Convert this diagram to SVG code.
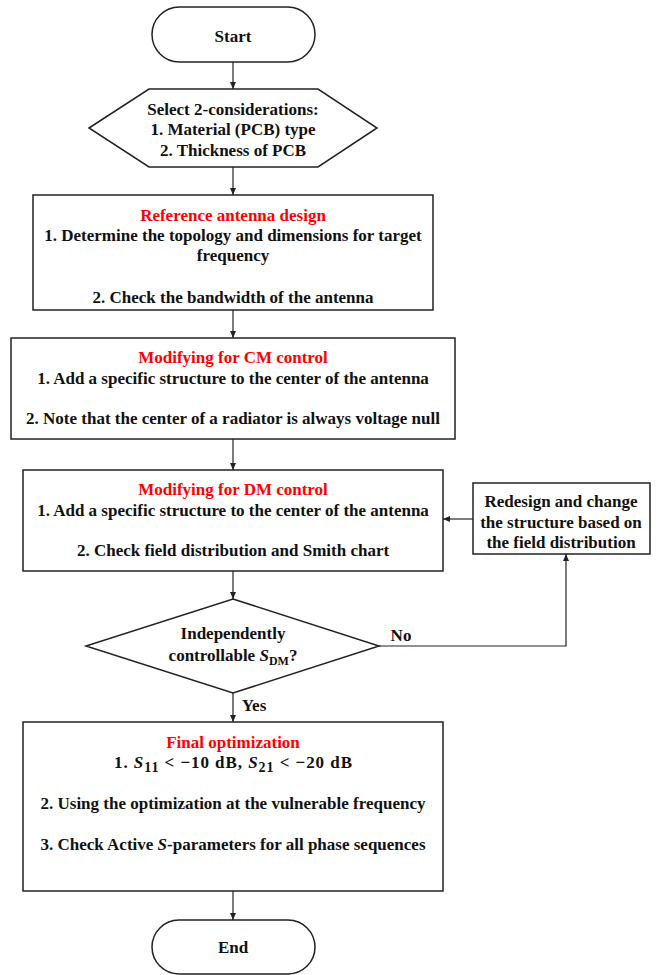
<svg xmlns="http://www.w3.org/2000/svg" width="661" height="975" viewBox="0 0 661 975">
<style>
.shape{fill:#fff;stroke:#222;stroke-width:1.5}
.t{font-family:"Liberation Serif","Times New Roman",serif;font-weight:bold;font-size:17px;fill:#111;text-anchor:middle}
.red{fill:#ff0000}
.it{font-style:italic}
.conn{fill:none;stroke:#222;stroke-width:1.2}
</style>
<defs>
<marker id="ah" markerWidth="8" markerHeight="8" refX="7" refY="3" orient="auto" markerUnits="userSpaceOnUse">
<path d="M0,0 L7,3 L0,6 Z" fill="#222"/>
</marker>
</defs>
<rect width="661" height="975" fill="#fff"/>
<g id="connectors">
<line class="conn" x1="233" y1="62" x2="233" y2="89" marker-end="url(#ah)"/>
<line class="conn" x1="233" y1="167" x2="233" y2="195" marker-end="url(#ah)"/>
<line class="conn" x1="233" y1="310" x2="233" y2="338" marker-end="url(#ah)"/>
<line class="conn" x1="233" y1="439" x2="233" y2="470" marker-end="url(#ah)"/>
<line class="conn" x1="233" y1="571" x2="233" y2="599" marker-end="url(#ah)"/>
<line class="conn" x1="233" y1="693" x2="233" y2="722" marker-end="url(#ah)"/>
<line class="conn" x1="233" y1="891" x2="233" y2="920" marker-end="url(#ah)"/>
<polyline class="conn" points="379,646 566,646 566,554" marker-end="url(#ah)"/>
<line class="conn" x1="473" y1="519" x2="443" y2="519" stroke-width="2" marker-end="url(#ah)"/>
<text class="t" x="401" y="641">No</text>
<text class="t" x="254" y="711">Yes</text>
</g>
<g id="start">
<rect class="shape" x="152" y="7" width="163" height="55" rx="27.5" ry="27.5"/>
<text class="t" x="233" y="42">Start</text>
</g>
<g id="select">
<polygon class="shape" points="89,128 149,89 318,89 377,128 318,167 149,167"/>
<text class="t" x="233" y="115">Select 2-considerations:</text>
<text class="t" x="233" y="135">1. Material (PCB) type</text>
<text class="t" x="233" y="156">2. Thickness of PCB</text>
</g>
<g id="reference">
<rect class="shape" x="33" y="195" width="400" height="115"/>
<text class="t red" x="233" y="221">Reference antenna design</text>
<text class="t" x="233" y="241">1. Determine the topology and dimensions for target</text>
<text class="t" x="233" y="261">frequency</text>
<text class="t" x="233" y="303">2. Check the bandwidth of the antenna</text>
</g>
<g id="cm">
<rect class="shape" x="11" y="338" width="444" height="101"/>
<text class="t red" x="233" y="363">Modifying for CM control</text>
<text class="t" x="233" y="384">1. Add a specific structure to the center of the antenna</text>
<text class="t" x="233" y="424">2. Note that the center of a radiator is always voltage null</text>
</g>
<g id="dm">
<rect class="shape" x="23" y="470" width="420" height="101"/>
<text class="t red" x="233" y="495">Modifying for DM control</text>
<text class="t" x="233" y="516">1. Add a specific structure to the center of the antenna</text>
<text class="t" x="233" y="556">2. Check field distribution and Smith chart</text>
</g>
<g id="redesign">
<rect class="shape" x="473" y="483" width="177" height="71"/>
<text class="t" x="561" y="507">Redesign and change</text>
<text class="t" x="561" y="528">the structure based on</text>
<text class="t" x="561" y="548">the field distribution</text>
</g>
<g id="decision">
<polygon class="shape" points="233,599 379,646 233,693 86,646"/>
<text class="t" x="233" y="639">Independently</text>
<text class="t" x="233" y="661">controllable <tspan class="it">S</tspan><tspan font-size="12" dy="4">DM</tspan><tspan dy="-4">?</tspan></text>
</g>
<g id="final">
<rect class="shape" x="23" y="722" width="420" height="169"/>
<text class="t red" x="233" y="748">Final optimization</text>
<text class="t" x="233" y="768" font-size="18" textLength="238" lengthAdjust="spacing">1. <tspan class="it">S</tspan><tspan font-size="14" dy="4">11</tspan><tspan dy="-4"> &lt; −10 dB, </tspan><tspan class="it">S</tspan><tspan font-size="14" dy="4">21</tspan><tspan dy="-4"> &lt; −20 dB</tspan></text>
<text class="t" x="233" y="809">2. Using the optimization at the vulnerable frequency</text>
<text class="t" x="233" y="850">3. Check Active <tspan class="it">S</tspan>-parameters for all phase sequences</text>
</g>
<g id="end">
<rect class="shape" x="152" y="920" width="163" height="54" rx="27" ry="27"/>
<text class="t" x="233" y="953">End</text>
</g>
</svg>
